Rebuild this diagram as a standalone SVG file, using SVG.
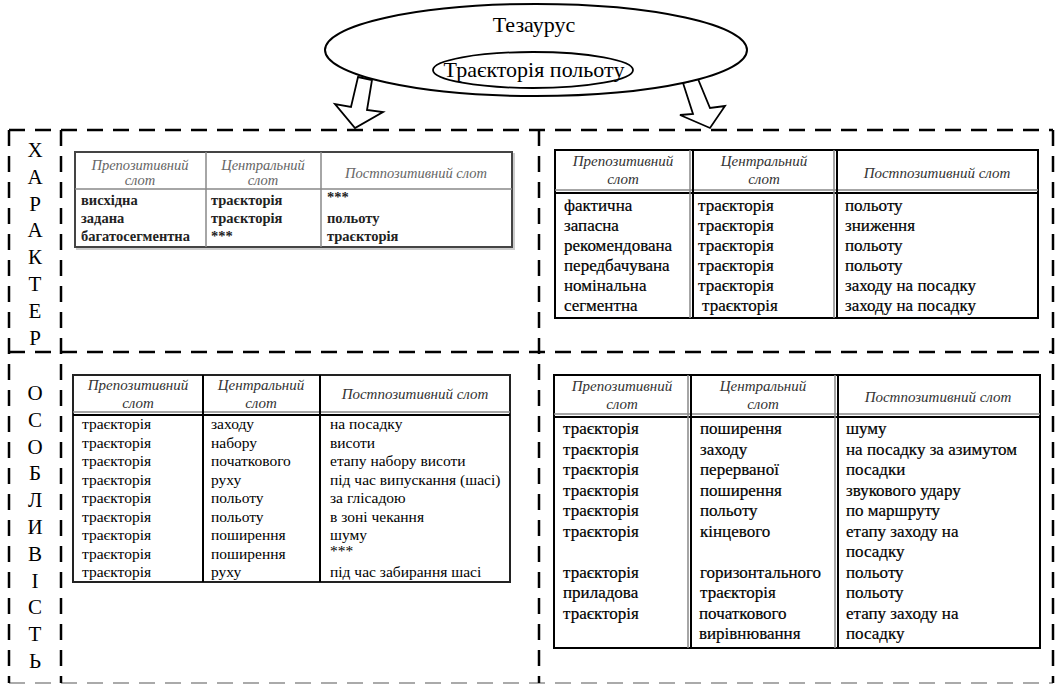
<svg xmlns="http://www.w3.org/2000/svg" width="1059" height="685" viewBox="0 0 1059 685" font-family="'Liberation Serif','Times New Roman',serif">
<defs>
<style>
text{font-family:'Liberation Serif','Times New Roman',serif}
.dash{stroke:#000;stroke-width:2.5;stroke-dasharray:16 10;fill:none}
.lt{font-size:21px;fill:#000;text-anchor:middle}
.big{font-size:22px;fill:#000;text-anchor:middle}
.hd{font-style:italic;font-size:15px;fill:#333;text-anchor:middle}
.hd1{font-style:italic;font-size:14.5px;fill:#666;text-anchor:middle}
.b1{font-weight:bold;font-size:14.5px;fill:#222}
.b3{font-size:15.5px;fill:#000}
.b4{font-size:17px;fill:#000;stroke:#000;stroke-width:0.2}
.ln{stroke:#000;stroke-width:2;fill:none}
.gl{stroke:#888;stroke-width:1.5;fill:none}
.arrow{fill:#fff;stroke:#000;stroke-width:1.8;stroke-linejoin:miter}
</style>
</defs>
<rect width="1059" height="685" fill="#fff"/>

<g id="connectors">
<polygon class="arrow" points="358,77 372,80 367,110 383,112 355,128 335,104 351,107"/>
<polygon class="arrow" points="683,83 698,79 710,108 725,106 710,128 680,115 693,114"/>
</g>

<g id="thesaurus">
<ellipse cx="536" cy="50" rx="211" ry="46" fill="#fff" stroke="#000" stroke-width="2"/>
<text class="big" x="534" y="32">Тезаурус</text>
</g>
<g id="trajectory">
<ellipse cx="533" cy="70" rx="100" ry="18" fill="#fff" stroke="#000" stroke-width="1.8"/>
<text class="big" x="534" y="77">Траєкторія польоту</text>
</g>

<g id="frame">
<line class="dash" x1="9" y1="130" x2="1053" y2="130"/>
<line class="dash" x1="9" y1="352" x2="1053" y2="352"/>
<line x1="9" y1="683" x2="1053" y2="683" stroke="#aaa" stroke-width="2" stroke-dasharray="16 10"/>
<line class="dash" x1="9" y1="130" x2="9" y2="683"/>
<line class="dash" x1="61" y1="130" x2="61" y2="683"/>
<line class="dash" x1="539" y1="130" x2="539" y2="683"/>
<line class="dash" x1="1053" y1="130" x2="1053" y2="683"/>
</g>

<g id="label-character">
<text class="lt" x="35" y="157">Х</text>
<text class="lt" x="35" y="184">А</text>
<text class="lt" x="35" y="211">Р</text>
<text class="lt" x="35" y="237">А</text>
<text class="lt" x="35" y="264">К</text>
<text class="lt" x="35" y="291">Т</text>
<text class="lt" x="35" y="318">Е</text>
<text class="lt" x="35" y="345">Р</text>
</g>
<g id="label-feature">
<text class="lt" x="35" y="400">О</text>
<text class="lt" x="35" y="427">С</text>
<text class="lt" x="35" y="454">О</text>
<text class="lt" x="35" y="480">Б</text>
<text class="lt" x="35" y="507">Л</text>
<text class="lt" x="35" y="534">И</text>
<text class="lt" x="35" y="561">В</text>
<text class="lt" x="35" y="588">І</text>
<text class="lt" x="35" y="614">С</text>
<text class="lt" x="35" y="641">Т</text>
<text class="lt" x="35" y="668">Ь</text>
</g>

<g id="table1">
<rect x="77" y="154" width="437" height="95" fill="none" stroke="#ccc" stroke-width="2"/>
<rect x="75" y="152" width="437" height="95" fill="#fff" stroke="#444" stroke-width="2"/>
<line class="gl" x1="75" y1="189" x2="512" y2="189" stroke-width="2"/>
<line class="gl" x1="206" y1="152" x2="206" y2="247" stroke-width="2"/>
<line class="gl" x1="321" y1="152" x2="321" y2="247" stroke-width="2"/>
<text class="hd1" x="140" y="170">Препозитивний</text>
<text class="hd1" x="140" y="185">слот</text>
<text class="hd1" x="263" y="170">Центральний</text>
<text class="hd1" x="263" y="185">слот</text>
<text class="hd1" x="416" y="178">Постпозитивний слот</text>
<text class="b1" x="81" y="205">висхідна</text>
<text class="b1" x="81" y="223">задана</text>
<text class="b1" x="81" y="241">багатосегментна</text>
<text class="b1" x="211" y="205">траєкторія</text>
<text class="b1" x="211" y="223">траєкторія</text>
<text class="b1" x="211" y="241">***</text>
<text class="b1" x="327" y="202">***</text>
<text class="b1" x="327" y="223">польоту</text>
<text class="b1" x="327" y="241">траєкторія</text>
</g>

<g id="table2">
<rect x="555" y="150" width="483" height="168" fill="#fff" stroke="#000" stroke-width="2"/>
<line class="gl" x1="555" y1="190" x2="1038" y2="190"/>
<line class="ln" x1="555" y1="193" x2="1038" y2="193" stroke-width="1.5"/>
<line class="gl" x1="690" y1="150" x2="690" y2="318"/>
<line class="ln" x1="693" y1="150" x2="693" y2="318" stroke-width="1.5"/>
<line class="gl" x1="834" y1="150" x2="834" y2="318"/>
<line class="ln" x1="837" y1="150" x2="837" y2="318" stroke-width="1.5"/>
<text class="hd" x="623" y="166">Препозитивний</text>
<text class="hd" x="623" y="184">слот</text>
<text class="hd" x="764" y="166">Центральний</text>
<text class="hd" x="764" y="184">слот</text>
<text class="hd" x="937" y="178">Постпозитивний слот</text>
<text class="b4" x="564" y="211">фактична</text>
<text class="b4" x="564" y="231">запасна</text>
<text class="b4" x="564" y="251">рекомендована</text>
<text class="b4" x="564" y="271">передбачувана</text>
<text class="b4" x="564" y="291">номінальна</text>
<text class="b4" x="564" y="311">сегментна</text>
<text class="b4" x="698" y="211">траєкторія</text>
<text class="b4" x="698" y="231">траєкторія</text>
<text class="b4" x="698" y="251">траєкторія</text>
<text class="b4" x="698" y="271">траєкторія</text>
<text class="b4" x="698" y="291">траєкторія</text>
<text class="b4" x="702" y="311">траєкторія</text>
<text class="b4" x="845" y="211">польоту</text>
<text class="b4" x="845" y="231">зниження</text>
<text class="b4" x="845" y="251">польоту</text>
<text class="b4" x="845" y="271">польоту</text>
<text class="b4" x="845" y="291">заходу на посадку</text>
<text class="b4" x="845" y="311">заходу на посадку</text>
</g>

<g id="table3">
<rect x="73" y="375" width="437" height="207" fill="#fff" stroke="#222" stroke-width="2"/>
<line class="gl" x1="73" y1="412" x2="510" y2="412"/>
<line class="ln" x1="73" y1="415" x2="510" y2="415" stroke="#555" stroke-width="1.5"/>
<line class="ln" x1="203" y1="375" x2="203" y2="582" stroke="#555" stroke-width="2.5"/>
<line class="ln" x1="320" y1="375" x2="320" y2="582" stroke="#555" stroke-width="2.5"/>
<text class="hd" x="138" y="390">Препозитивний</text>
<text class="hd" x="138" y="408">слот</text>
<text class="hd" x="261" y="390">Центральний</text>
<text class="hd" x="261" y="408">слот</text>
<text class="hd" x="415" y="399">Постпозитивний слот</text>
<text class="b3" x="82" y="429">траєкторія</text>
<text class="b3" x="82" y="447.5">траєкторія</text>
<text class="b3" x="82" y="466">траєкторія</text>
<text class="b3" x="82" y="484.5">траєкторія</text>
<text class="b3" x="82" y="503">траєкторія</text>
<text class="b3" x="82" y="521.5">траєкторія</text>
<text class="b3" x="82" y="540">траєкторія</text>
<text class="b3" x="82" y="558.5">траєкторія</text>
<text class="b3" x="82" y="577">траєкторія</text>
<text class="b3" x="211" y="429">заходу</text>
<text class="b3" x="211" y="447.5">набору</text>
<text class="b3" x="211" y="466">початкового</text>
<text class="b3" x="211" y="484.5">руху</text>
<text class="b3" x="211" y="503">польоту</text>
<text class="b3" x="211" y="521.5">польоту</text>
<text class="b3" x="211" y="540">поширення</text>
<text class="b3" x="211" y="558.5">поширення</text>
<text class="b3" x="211" y="577">руху</text>
<text class="b3" x="330" y="429">на посадку</text>
<text class="b3" x="330" y="447.5">висоти</text>
<text class="b3" x="330" y="466">етапу набору висоти</text>
<text class="b3" x="330" y="484.5">під час випускання (шасі)</text>
<text class="b3" x="330" y="503">за глісадою</text>
<text class="b3" x="330" y="521.5">в зоні чекання</text>
<text class="b3" x="330" y="540">шуму</text>
<text class="b3" x="330" y="556">***</text>
<text class="b3" x="330" y="577">під час забирання шасі</text>
</g>

<g id="table4">
<rect x="554" y="375" width="486" height="273" fill="#fff" stroke="#000" stroke-width="2"/>
<line class="gl" x1="554" y1="414" x2="1040" y2="414"/>
<line class="ln" x1="554" y1="417" x2="1040" y2="417" stroke-width="1.5"/>
<line class="gl" x1="688" y1="375" x2="688" y2="648"/>
<line class="ln" x1="691" y1="375" x2="691" y2="648" stroke-width="1.5"/>
<line class="gl" x1="835" y1="375" x2="835" y2="648"/>
<line class="ln" x1="838" y1="375" x2="838" y2="648" stroke-width="1.5"/>
<text class="hd" x="622" y="391">Препозитивний</text>
<text class="hd" x="622" y="409">слот</text>
<text class="hd" x="763" y="391">Центральний</text>
<text class="hd" x="763" y="409">слот</text>
<text class="hd" x="938" y="402">Постпозитивний слот</text>
<text class="b4" x="563" y="434">траєкторія</text>
<text class="b4" x="563" y="454.5">траєкторія</text>
<text class="b4" x="563" y="475">траєкторія</text>
<text class="b4" x="563" y="495.5">траєкторія</text>
<text class="b4" x="563" y="516">траєкторія</text>
<text class="b4" x="563" y="536.5">траєкторія</text>
<text class="b4" x="563" y="577.5">траєкторія</text>
<text class="b4" x="563" y="598">приладова</text>
<text class="b4" x="563" y="618.5">траєкторія</text>
<text class="b4" x="700" y="434">поширення</text>
<text class="b4" x="700" y="454.5">заходу</text>
<text class="b4" x="700" y="475">перерваної</text>
<text class="b4" x="700" y="495.5">поширення</text>
<text class="b4" x="700" y="516">польоту</text>
<text class="b4" x="700" y="536.5">кінцевого</text>
<text class="b4" x="700" y="577.5">горизонтального</text>
<text class="b4" x="700" y="598">траєкторія</text>
<text class="b4" x="699" y="618.5">початкового</text>
<text class="b4" x="699" y="639">вирівнювання</text>
<text class="b4" x="846" y="434">шуму</text>
<text class="b4" x="846" y="454.5">на посадку за азимутом</text>
<text class="b4" x="846" y="475">посадки</text>
<text class="b4" x="846" y="495.5">звукового удару</text>
<text class="b4" x="846" y="516">по маршруту</text>
<text class="b4" x="846" y="536.5">етапу заходу на</text>
<text class="b4" x="846" y="557">посадку</text>
<text class="b4" x="846" y="577.5">польоту</text>
<text class="b4" x="846" y="598">польоту</text>
<text class="b4" x="846" y="618.5">етапу заходу на</text>
<text class="b4" x="846" y="639">посадку</text>
</g>
</svg>
